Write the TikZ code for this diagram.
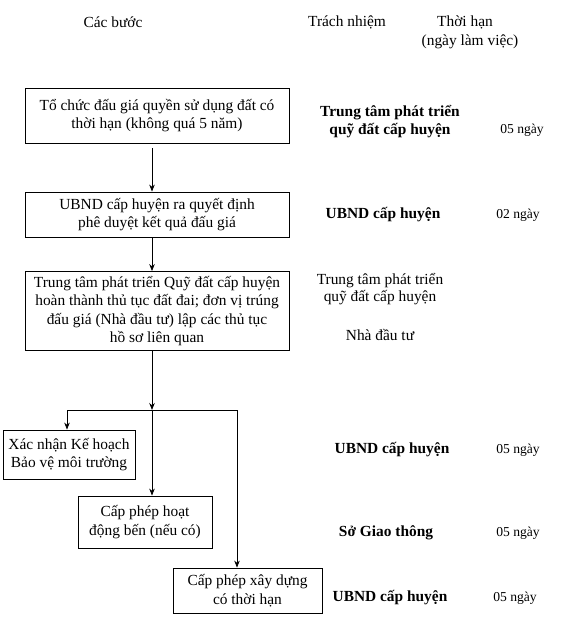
\documentclass[tikz,border=0pt]{standalone}
\usepackage{fontspec}
\setmainfont{Liberation Serif}
\usetikzlibrary{arrows.meta}
\begin{document}
\begin{tikzpicture}[x=1pt,y=-1pt,
  every node/.style={font=\fontsize{15.4}{18.5}\selectfont, inner sep=0pt},
  stepbox/.style={draw, line width=0.8pt, align=center, anchor=center},
  conn/.style={line width=0.8pt, -{Stealth[length=7pt,width=5.5pt]}},
  plain/.style={line width=0.8pt},
  resp/.style={align=center, font=\fontsize{15.4}{17.5}\selectfont\bfseries},
  respn/.style={align=center, font=\fontsize{15.4}{17.5}\selectfont},
  days/.style={font=\fontsize{13.6}{16}\selectfont}]
\useasboundingbox (0,0) rectangle (576,617);
% headers
\node (h1) at (113,22) {Các bước};
\node (h2) at (347,22) {Trách nhiệm};
\node (h3) at (465,22) {Thời hạn};
\node (h4) at (470,42) {(ngày làm việc)};
% step boxes
\node[stepbox, minimum width=264, minimum height=55] (b1) at (157,115.5)
  {Tổ chức đấu giá quyền sử dụng đất có\\thời hạn (không quá 5 năm)};
\node[stepbox, minimum width=264, minimum height=45] (b2) at (157,214.5)
  {UBND cấp huyện ra quyết định\\phê duyệt kết quả đấu giá};
\node[stepbox, minimum width=264, minimum height=79] (b3) at (157,311)
  {Trung tâm phát triển Quỹ đất cấp huyện\\hoàn thành thủ tục đất đai; đơn vị trúng\\đấu giá (Nhà đầu tư) lập các thủ tục\\hồ sơ liên quan};
\node[stepbox, minimum width=132, minimum height=49, font=\fontsize{15.4}{17.5}\selectfont] (b4) at (69,454.5)
  {Xác nhận Kế hoạch\\Bảo vệ môi trường};
\node[stepbox, minimum width=134, minimum height=52] (b5) at (145,522)
  {Cấp phép hoạt\\động bến (nếu có)};
\node[stepbox, minimum width=149, minimum height=45] (b6) at (247.5,590.5)
  {Cấp phép xây dựng\\có thời hạn};
% responsibility
\node[resp] (r1) at (390,121.5) {Trung tâm phát triển\\quỹ đất cấp huyện};
\node[days] (d1) at (522,130) {05 ngày};
\node[resp] (r2) at (383,215) {UBND cấp huyện};
\node[days] (d2) at (518,215) {02 ngày};
\node[respn] (r3) at (380,289) {Trung tâm phát triển\\quỹ đất cấp huyện};
\node[respn] (r4) at (380,335) {Nhà đầu tư};
\node[resp] (r5) at (392,450) {UBND cấp huyện};
\node[days] (d5) at (518,450) {05 ngày};
\node[resp] (r6) at (386,533) {Sở Giao thông};
\node[days] (d6) at (518,533) {05 ngày};
\node[resp] (r7) at (390,598) {UBND cấp huyện};
\node[days] (d7) at (515,598) {05 ngày};
% connectors
\coordinate (cx) at (152,0);
\coordinate (jl) at (67,410);
\coordinate (jm) at (152,410);
\coordinate (jr) at (237,410);
\draw[conn] (b1.south -| cx) ++(0,5) -- (b2.north -| cx);
\draw[conn] (b2.south -| cx) -- (b3.north -| cx);
\draw[conn] (b3.south -| cx) -- (jm);
\draw[plain] (jl) -- (jr);
\draw[conn] (jl) -- (b4.north -| jl);
\draw[conn] (jm) -- (b5.north -| jm);
\draw[conn] (jr) -- (b6.north -| jr);
\end{tikzpicture}
\end{document}
